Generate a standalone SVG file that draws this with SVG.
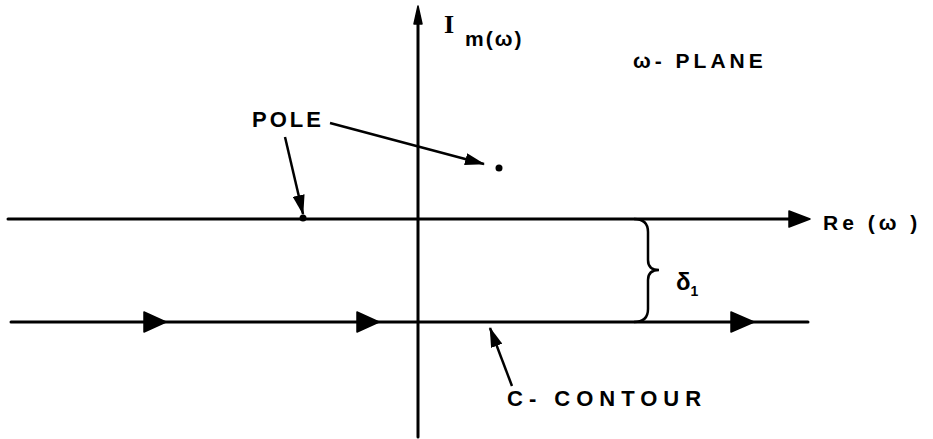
<svg xmlns="http://www.w3.org/2000/svg" width="933" height="439" viewBox="0 0 933 439">
<style>
.ln{stroke:#000;stroke-width:3;fill:none;stroke-linecap:round}
.th{stroke:#000;stroke-width:2.5;fill:none}
.ah{fill:#000;stroke:#000;stroke-width:1.5;stroke-linejoin:round}
.t{font-family:"Liberation Sans",Arial,sans-serif;font-weight:bold;fill:#000}
</style>
<defs>
<marker id="arr" viewBox="0 0 20 12" refX="19" refY="6" markerWidth="20" markerHeight="12" markerUnits="userSpaceOnUse" orient="auto">
<path d="M0,0 L20,6 L0,12 Z" fill="#000"/>
</marker>
</defs>
<rect width="933" height="439" fill="#fff"/>
<g id="connectors">
<line class="ln" x1="418" y1="437" x2="418" y2="20"/>
<path class="ah" d="M418,6 L422,24 L414,24 Z"/>
<line class="ln" x1="8" y1="219" x2="792" y2="219"/>
<path class="ah" d="M789,211 L810,219 L789,227 Z"/>
<line class="ln" x1="11" y1="322" x2="808" y2="322"/>
<path class="ah" d="M144,312 L166,322 L144,332 Z"/>
<path class="ah" d="M357,312 L379,322 L357,332 Z"/>
<path class="ah" d="M731,312 L754,322 L731,332 Z"/>
<path class="th" d="M634,219 Q648,219 648,232 L648,260 Q648,270 659,270 Q648,270 648,280 L648,309 Q648,322 634,322"/>
<line class="th" x1="330" y1="123" x2="484" y2="164" marker-end="url(#arr)"/>
<line class="th" x1="285" y1="137" x2="303" y2="214" marker-end="url(#arr)"/>
<line class="th" x1="512" y1="386" x2="490" y2="328" marker-end="url(#arr)"/>
</g>
<g id="pole-onaxis"><circle cx="303" cy="218" r="3.5"/></g>
<g id="pole-upper"><circle cx="499" cy="168" r="3.5"/></g>
<g id="label-im"><text x="444" y="33" font-family="Liberation Serif,serif" font-size="26" font-weight="bold">I</text><text class="t" x="465" y="46" font-size="21" letter-spacing="2">m(ω)</text></g>
<g id="label-plane"><text class="t" x="633" y="68" font-size="21" letter-spacing="4">ω- PLANE</text></g>
<g id="label-pole"><text class="t" x="252" y="127" font-size="22" letter-spacing="3">POLE</text></g>
<g id="label-re"><text class="t" x="823" y="230" font-size="21" letter-spacing="4">Re (ω )</text></g>
<g id="label-delta"><text class="t" x="676" y="290" font-size="24">δ<tspan font-size="14" dy="6">1</tspan></text></g>
<g id="label-contour"><text class="t" x="507" y="406" font-size="22" letter-spacing="6">C- CONTOUR</text></g>
</svg>
